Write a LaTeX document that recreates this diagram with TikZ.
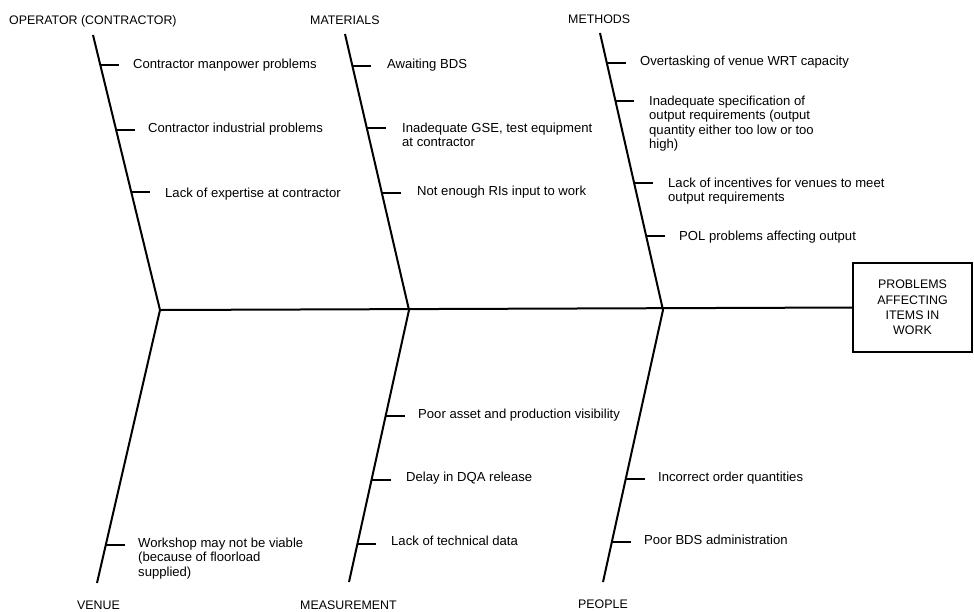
\documentclass[tikz,border=0pt]{standalone}
\usepackage{fontspec}
\setmainfont{Liberation Sans}
\usetikzlibrary{calc}

\tikzset{
  bone/.style={line width=2pt},
  spine/.style={line width=2pt},
  twig/.style={line width=2pt},
  cause/.style={anchor=base west, inner sep=0pt,
    font=\fontsize{13.1}{14.5}\selectfont},
  category/.style={anchor=base west, inner sep=0pt,
    font=\fontsize{12.4}{13}\selectfont},
  effect/.style={draw, line width=2pt, minimum width=119pt, minimum height=89pt,
    inner sep=0pt, align=center, font=\fontsize{12.4}{15.3}\selectfont},
}

% lines of a cause, aligned on the baseline of the first one
\newcommand{\causelines}[1]{\begin{tabular}[t]{@{}l@{}}#1\end{tabular}}

% a twig leaving a bone at a given fraction of its length
\newcommand{\causetwig}[4]{%
  % #1 name, #2 bone start, #3 bone end, #4 fraction
  \coordinate (#1a) at ($(#2)!#4!(#3)$);
  \coordinate (#1b) at ($(#1a)+(19,0)$);
  \draw[twig] (#1a) -- (#1b);
}

\begin{document}
\begin{tikzpicture}[x=1pt,y=-1pt]
\useasboundingbox (0,0) rectangle (974,611);

% head of the fish
\node[effect] (head) at (912.5,307.5) {PROBLEMS\\AFFECTING\\ITEMS IN\\WORK};

% junctions on the spine
\coordinate (jA) at (160,310);
\coordinate (jB) at (409,310);
\coordinate (jC) at (663,310);

% free ends of the bones
\coordinate (opTop) at (93,35);
\coordinate (maTop) at (345,34);
\coordinate (meTop) at (600,33);
\coordinate (veBot) at (97,583);
\coordinate (msBot) at (349,582);
\coordinate (peBot) at (603,582);

% spine and bones
\draw[spine] (jA) -- (head.west);
\draw[bone] (opTop) -- (jA) -- (veBot);
\draw[bone] (maTop) -- (jB) -- (msBot);
\draw[bone] (meTop) -- (jC) -- (peBot);

% category labels
\node[category] (lop) at (9,24)   {OPERATOR (CONTRACTOR)};
\node[category] (lma) at (310,24) {MATERIALS};
\node[category] (lme) at (568,23) {METHODS};
\node[category] (lve) at (77,609) {VENUE};
\node[category] (lms) at (300,609){MEASUREMENT};
\node[category] (lpe) at (578,608){PEOPLE};

% --- operator (contractor)
\causetwig{o1}{opTop}{jA}{0.1087}
\causetwig{o2}{opTop}{jA}{0.3442}
\causetwig{o3}{opTop}{jA}{0.5725}
\node[cause] (to1) at (133,68)  {Contractor manpower problems};
\node[cause] (to2) at (148,132) {Contractor industrial problems};
\node[cause] (to3) at (165,197) {Lack of expertise at contractor};

% --- materials
\causetwig{m1}{maTop}{jB}{0.1151}
\causetwig{m2}{maTop}{jB}{0.3417}
\causetwig{m3}{maTop}{jB}{0.5755}
\node[cause] (tm1) at (387,68)  {Awaiting BDS};
\node[cause] (tm2) at (402,132) {\causelines{Inadequate GSE, test equipment\\at contractor}};
\node[cause] (tm3) at (417,195) {Not enough RIs input to work};

% --- methods
\causetwig{e1}{meTop}{jC}{0.1079}
\causetwig{e2}{meTop}{jC}{0.2446}
\causetwig{e3}{meTop}{jC}{0.5432}
\causetwig{e4}{meTop}{jC}{0.7338}
\node[cause] (te1) at (640,65)  {Overtasking of venue WRT capacity};
\node[cause] (te2) at (649,105) {\causelines{Inadequate specification of\\output requirements (output\\quantity either too low or too\\high)}};
\node[cause] (te3) at (668,187) {\causelines{Lack of incentives for venues to meet\\output requirements}};
\node[cause] (te4) at (679,240) {POL problems affecting output};

% --- venue
\causetwig{v1}{jA}{veBot}{0.8603}
\node[cause] (tv1) at (138,547) {\causelines{Workshop may not be viable\\(because of floorload\\supplied)}};

% --- measurement
\causetwig{s1}{jB}{msBot}{0.3911}
\causetwig{s2}{jB}{msBot}{0.6236}
\causetwig{s3}{jB}{msBot}{0.8598}
\node[cause] (ts1) at (418,418) {Poor asset and production visibility};
\node[cause] (ts2) at (406,481) {Delay in DQA release};
\node[cause] (ts3) at (391,545) {Lack of technical data};

% --- people
\causetwig{p1}{jC}{peBot}{0.6199}
\causetwig{p2}{jC}{peBot}{0.8524}
\node[cause] (tp1) at (658,481) {Incorrect order quantities};
\node[cause] (tp2) at (644,544) {Poor BDS administration};

\end{tikzpicture}
\end{document}
